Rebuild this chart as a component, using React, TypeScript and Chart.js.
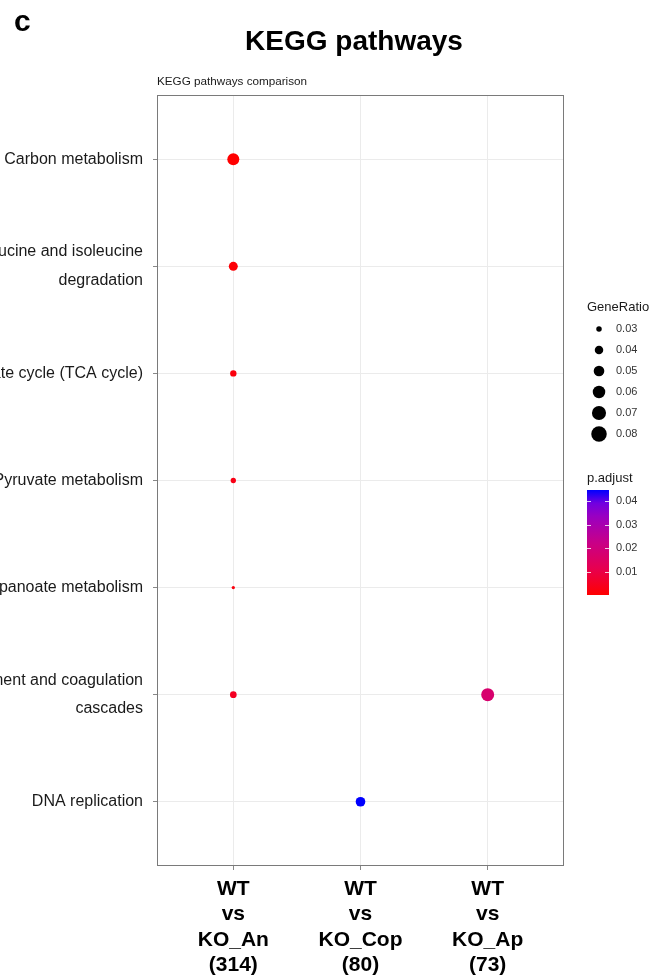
import React, { useEffect, useRef } from "react";
import { Chart, registerables } from "chart.js";

Chart.register(...registerables);

const FONT = "'Liberation Sans', Arial, Helvetica, sans-serif";

// ---------- data ----------
const pathways: (string | string[])[] = [
  "Carbon metabolism",
  ["Valine, leucine and isoleucine", "degradation"],
  "Citrate cycle (TCA cycle)",
  "Pyruvate metabolism",
  "Propanoate metabolism",
  ["Complement and coagulation", "cascades"],
  "DNA replication",
];

const comparisons: string[][] = [
  ["WT", "vs", "KO_An", "(314)"],
  ["WT", "vs", "KO_Cop", "(80)"],
  ["WT", "vs", "KO_Ap", "(73)"],
];

// one entry per dot
const pointComparison = [0, 0, 0, 0, 0, 0, 2, 1];
const pointPathway = [0, 1, 2, 3, 4, 5, 5, 6];
const pointGeneRatio = [0.057, 0.042, 0.0325, 0.0295, 0.0254, 0.0335, 0.063, 0.045];
const pointPAdjust = [0.0001, 0.001, 0.002, 0.003, 0.002, 0.005, 0.0172, 0.0448];

const geneRatioBreaks = [0.03, 0.04, 0.05, 0.06, 0.07, 0.08];
const pAdjustBreaks = [0.01, 0.02, 0.03, 0.04];

const titleText = "KEGG pathways";
const subtitleText = "KEGG pathways comparison";
const panelLetter = "c";

// ---------- scales ----------
const pMin = Math.min(...pointPAdjust);
const pMax = Math.max(...pointPAdjust);

// area-style size scale
function radiusFor(g: number) {
  return 32.4 * Math.sqrt(Math.max(0, g - 0.0228));
}

// red -> blue gradient (Lab-like interpolation, as ggplot)
const colorStops: [number, number[]][] = [
  [0, [255, 0, 0]],
  [0.25, [231, 0, 79]],
  [0.5, [200, 0, 136]],
  [0.75, [153, 0, 194]],
  [0.875, [113, 0, 224]],
  [1, [0, 0, 255]],
];

function colorAt(t: number) {
  t = Math.max(0, Math.min(1, t));
  for (let i = 1; i < colorStops.length; i++) {
    const [t1, c1] = colorStops[i];
    const [t0, c0] = colorStops[i - 1];
    if (t <= t1) {
      const f = (t - t0) / (t1 - t0);
      const c = c0.map((v, k) => Math.round(v + (c1[k] - v) * f));
      return `rgb(${c[0]},${c[1]},${c[2]})`;
    }
  }
  return "rgb(0,0,255)";
}

function colorFor(p: number) {
  return colorAt((p - pMin) / (pMax - pMin));
}

// ---------- overlay plugin (titles, panel border, legends) ----------
const overlayPlugin = {
  id: "overlay",
  afterDraw(chart: any) {
    const ctx: CanvasRenderingContext2D = chart.ctx;
    const a = chart.chartArea;
    ctx.save();

    // panel border
    ctx.strokeStyle = "#7a7a7a";
    ctx.lineWidth = 1;
    ctx.strokeRect(
      Math.round(a.left) + 0.5,
      Math.round(a.top) + 0.5,
      Math.round(a.right - a.left) - 1,
      Math.round(a.bottom - a.top) - 1
    );

    // panel letter
    ctx.fillStyle = "#000";
    ctx.textBaseline = "middle";
    ctx.textAlign = "left";
    ctx.font = `bold 30px ${FONT}`;
    ctx.fillText(panelLetter, 14, 23);

    // title
    ctx.textAlign = "center";
    ctx.font = `bold 28px ${FONT}`;
    ctx.fillText(titleText, 354, 42);

    // subtitle
    ctx.textAlign = "left";
    ctx.fillStyle = "#1a1a1a";
    ctx.font = `11.7px ${FONT}`;
    ctx.fillText(subtitleText, a.left, 82);

    // GeneRatio legend
    ctx.font = `13px ${FONT}`;
    ctx.fillText("GeneRatio", 587, 307);
    ctx.font = `11px ${FONT}`;
    geneRatioBreaks.forEach((b, i) => {
      const y = 329 + i * 21;
      ctx.beginPath();
      ctx.fillStyle = "#000";
      ctx.arc(599, y, radiusFor(b), 0, Math.PI * 2);
      ctx.fill();
      ctx.fillStyle = "#333";
      ctx.fillText(b.toFixed(2), 616, y);
    });

    // p.adjust legend
    ctx.fillStyle = "#1a1a1a";
    ctx.font = `13px ${FONT}`;
    ctx.fillText("p.adjust", 587, 478);
    const barL = 587, barR = 609, barT = 490, barB = 595;
    const grad = ctx.createLinearGradient(0, barB, 0, barT);
    colorStops.forEach(([t]) => grad.addColorStop(t, colorAt(t)));
    ctx.fillStyle = grad;
    ctx.fillRect(barL, barT, barR - barL, barB - barT);
    ctx.font = `11px ${FONT}`;
    pAdjustBreaks.forEach((b) => {
      const y = barB - ((b - pMin) / (pMax - pMin)) * (barB - barT);
      ctx.strokeStyle = "rgba(255,255,255,0.8)";
      ctx.beginPath();
      ctx.moveTo(barL, Math.round(y) + 0.5);
      ctx.lineTo(barL + 4, Math.round(y) + 0.5);
      ctx.moveTo(barR - 4, Math.round(y) + 0.5);
      ctx.lineTo(barR, Math.round(y) + 0.5);
      ctx.stroke();
      ctx.fillStyle = "#333";
      ctx.fillText(b.toFixed(2), 616, y);
    });

    ctx.restore();
  },
};

export default function App() {
  const canvasRef = useRef<HTMLCanvasElement | null>(null);

  useEffect(() => {
    if (!canvasRef.current) return;
    const chart = new Chart(canvasRef.current, {
      type: "scatter",
      data: {
        datasets: [
          {
            data: pointGeneRatio.map((_, i) => ({
              x: pointComparison[i] + 1,
              y: pointPathway[i] + 1,
            })),
            pointRadius: (c: any) => radiusFor(pointGeneRatio[c.dataIndex]),
            pointHoverRadius: (c: any) => radiusFor(pointGeneRatio[c.dataIndex]),
            pointBackgroundColor: (c: any) => colorFor(pointPAdjust[c.dataIndex]),
            pointBorderWidth: 0,
            pointBorderColor: "rgba(0,0,0,0)",
          } as any,
        ],
      },
      options: {
        responsive: false,
        animation: false,
        devicePixelRatio: 1,
        events: [],
        layout: { padding: { top: 95, right: 93, left: 0, bottom: 0 } },
        plugins: {
          legend: { display: false },
          tooltip: { enabled: false },
          title: { display: false },
        },
        scales: {
          x: {
            type: "linear",
            min: 0.4,
            max: 3.6,
            afterBuildTicks: (s: any) => {
              s.ticks = comparisons.map((_, i) => ({ value: i + 1 }));
            },
            afterFit: (s: any) => {
              s.height = 114;
            },
            ticks: {
              autoSkip: false,
              maxRotation: 0,
              minRotation: 0,
              padding: 6,
              color: "#000",
              font: { family: FONT, size: 21, weight: "bold", lineHeight: 1.22 },
              callback: (v: any) => comparisons[Math.round(v) - 1],
            },
            grid: {
              color: "#EBEBEB",
              lineWidth: 1,
              drawTicks: true,
              tickLength: 4,
              tickColor: "#888",
            },
            border: { display: false },
          },
          y: {
            type: "linear",
            min: 0.4,
            max: 7.6,
            reverse: true,
            afterBuildTicks: (s: any) => {
              s.ticks = pathways.map((_, i) => ({ value: i + 1 }));
            },
            afterFit: (s: any) => {
              s.width = 157;
            },
            ticks: {
              autoSkip: false,
              padding: 10,
              color: "#1a1a1a",
              font: { family: FONT, size: 16, lineHeight: 1.78 },
              callback: (v: any) => pathways[Math.round(v) - 1],
            },
            grid: {
              color: "#EBEBEB",
              lineWidth: 1,
              drawTicks: true,
              tickLength: 4,
              tickColor: "#888",
            },
            border: { display: false },
          },
        },
      } as any,
      plugins: [overlayPlugin],
    });
    return () => chart.destroy();
  }, []);

  return (
    <div
      style={{
        position: "absolute",
        left: 0,
        top: 0,
        width: 657,
        height: 980,
        background: "#fff",
      }}
    >
      <canvas ref={canvasRef} width={657} height={980} style={{ display: "block" }} />
    </div>
  );
}
